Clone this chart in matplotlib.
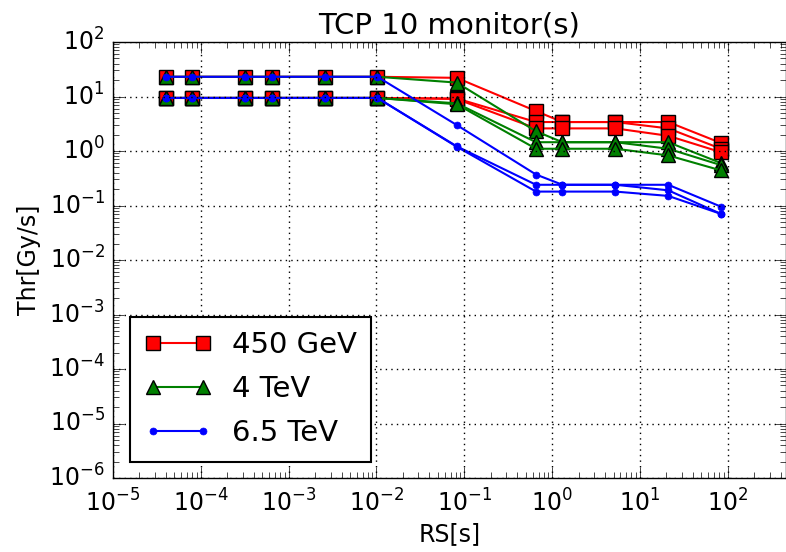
import matplotlib
matplotlib.use("Agg")
import matplotlib.pyplot as plt
import numpy as np

plt.style.use("classic")
plt.rcParams["mathtext.fontset"] = "dejavusans"
plt.rcParams["font.family"] = ["DejaVu Sans"]

# Running sum integration times [s]
rs = [4e-5, 8e-5, 3.2e-4, 6.4e-4, 2.56e-3, 1.024e-2,
      8.192e-2, 0.65536, 1.31072, 5.24288, 20.97152, 83.88608]

# 450 GeV thresholds
red_1 = [23, 23, 23, 23, 23, 23, 22, 5.4, 3.4, 3.4, 3.4, 1.4]
red_2 = [9.4, 9.4, 9.4, 9.4, 9.4, 9.4, 9.2, 3.4, 3.4, 3.4, 2.6, 1.1]
red_3 = [9.4, 9.4, 9.4, 9.4, 9.4, 9.4, 9.0, 2.6, 2.6, 2.6, 1.9, 0.95]

# 4 TeV thresholds
green_1 = [23, 23, 23, 23, 23, 23, 18, 2.3, 1.45, 1.45, 1.45, 0.6]
green_2 = [9.4, 9.4, 9.4, 9.4, 9.4, 9.4, 7.5, 1.45, 1.45, 1.45, 1.1, 0.55]
green_3 = [9.4, 9.4, 9.4, 9.4, 9.4, 9.4, 7.2, 1.1, 1.1, 1.1, 0.83, 0.44]

# 6.5 TeV thresholds
blue_1 = [23, 23, 23, 23, 23, 23, 3.0, 0.37, 0.24, 0.24, 0.24, 0.095]
blue_2 = [9.4, 9.4, 9.4, 9.4, 9.4, 9.4, 1.22, 0.24, 0.24, 0.24, 0.19, 0.07]
blue_3 = [9.4, 9.4, 9.4, 9.4, 9.4, 9.4, 1.20, 0.18, 0.18, 0.18, 0.15, 0.07]

labels = ["450 GeV", "4 TeV", "6.5 TeV"]

fig = plt.figure(figsize=(7.86, 5.52), dpi=100, facecolor="white")
ax = fig.add_axes([113 / 786, 1 - 478 / 552, (786 - 113) / 786, (478 - 42) / 552])

for i, s in enumerate([red_1, red_2, red_3]):
    ax.plot(rs, s, color="red", marker="s", markersize=10, markeredgecolor="black",
            markeredgewidth=1, linewidth=1.5, label=labels[0] if i == 0 else None)
for i, s in enumerate([green_1, green_2, green_3]):
    ax.plot(rs, s, color="green", marker="^", markersize=10, markeredgecolor="black",
            markeredgewidth=1, linewidth=1.5, label=labels[1] if i == 0 else None)
for i, s in enumerate([blue_1, blue_2, blue_3]):
    ax.plot(rs, s, color="blue", marker="o", markersize=5, markeredgecolor="blue",
            linewidth=1.5, label=labels[2] if i == 0 else None)

ax.set_xscale("log")
ax.set_yscale("log")
ax.set_xlim(1e-5, 4.6e2)
ax.set_ylim(1e-6, 1e2)
ax.grid(True, which="major", color="black", linestyle=":", linewidth=1)
ax.tick_params(which="major", length=8, labelsize=17, direction="in", top=True, right=True)
ax.tick_params(which="minor", length=4, direction="in", top=True, right=True)
ax.tick_params(axis="x", pad=8)
ax.tick_params(axis="y", pad=6)

ax.set_title("TCP 10 monitor(s)", fontsize=21, pad=6)
ax.set_xlabel("RS[s]", fontsize=17, labelpad=4)
ax.set_ylabel("Thr[Gy/s]", fontsize=17, labelpad=6)

leg = ax.legend(loc="lower left", fontsize=21, numpoints=2, borderpad=0.5,
                labelspacing=0.55, handlelength=2.3, handletextpad=0.7,
                fancybox=False, borderaxespad=0,
                bbox_to_anchor=(0.025, 0.037))
leg.get_frame().set_linewidth(1.5)

fig.savefig("out.png", dpi=100, facecolor="white")
